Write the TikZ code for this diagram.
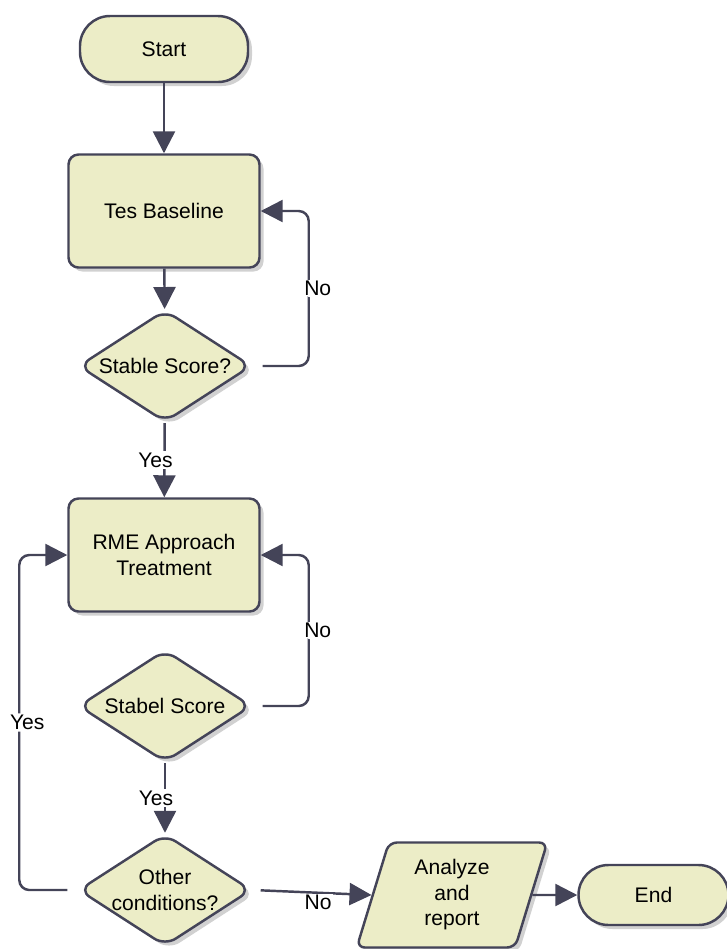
\documentclass[tikz,border=0pt]{standalone}
\usepackage{fontspec}
\setmainfont{Liberation Sans}
\usepackage{tikz}
\usetikzlibrary{shapes.geometric,shadows,arrows.meta}
\definecolor{boxfill}{RGB}{236,237,199}
\definecolor{boxline}{RGB}{68,68,88}
\tikzset{shapebase/.style={draw=boxline, fill=boxfill, line width=1.4pt, font=\fontsize{12}{14.5}\selectfont, align=center, drop shadow={shadow xshift=0.08cm, shadow yshift=-0.08cm, fill=black!40, opacity=0.45}}}
\tikzset{terminal/.style={shapebase, shape=rectangle, rounded corners=0.6cm, minimum width=3.36cm, minimum height=1.32cm}}
\tikzset{process/.style={shapebase, shape=rectangle, rounded corners=0.2cm, minimum width=3.82cm, minimum height=2.26cm}}
\tikzset{decision/.style={shapebase, shape=diamond, aspect=1.55, inner xsep=-0.12cm, inner ysep=-0.05cm, rounded corners=0.25cm, minimum width=3.46cm, minimum height=2.24cm}}
\tikzset{iobox/.style={shapebase, shape=trapezium, trapezium left angle=75, trapezium right angle=105, trapezium stretches=true, rounded corners=0.16cm, minimum width=3.82cm, minimum height=2.1cm}}
\tikzset{flowline/.style={draw=boxline, line width=1.4pt, -{Triangle[length=0.44cm,width=0.44cm]}}}
\tikzset{flowlabel/.style={fill=white, inner sep=1pt, font=\fontsize{12}{14.5}\selectfont}}

\begin{document}
\begin{tikzpicture}
\useasboundingbox (0,0) rectangle (14.54,-18.98);
\node[terminal] (start) at (3.28,-0.98) {Start};
\node[process] (tes) at (3.28,-4.22) {Tes Baseline};
\node[decision] (d1) at (3.3,-7.32) {Stable Score?};
\node[process] (rme) at (3.28,-11.1) {RME Approach\\Treatment};
\node[decision] (d2) at (3.3,-14.12) {Stabel Score};
\node[decision] (d3) at (3.3,-17.8) {Other\\conditions?};
\node[iobox] (report) at (9.04,-17.9) {Analyze\\and\\report};
\node[terminal, minimum width=3.0cm, minimum height=1.2cm] (finish) at (13.07,-17.9) {End};
\draw[flowline] (start) -- (tes);
\draw[flowline] (tes) -- (d1);
\draw[flowline, rounded corners=0.2cm, shorten <=0.2cm] (d1.east) -- ++(1.12,0) |- (tes.east) node[flowlabel, pos=0.25, xshift=0.18cm] {No};
\draw[flowline] (d1) -- (rme) node[flowlabel, pos=0.5, xshift=-0.18cm] {Yes};
\draw[flowline, rounded corners=0.2cm, shorten <=0.2cm] (d2.east) -- ++(1.12,0) |- (rme.east) node[flowlabel, pos=0.25, xshift=0.18cm] {No};
\draw[flowline] (d2) -- (d3) node[flowlabel, pos=0.5, xshift=-0.18cm] {Yes};
\draw[flowline, rounded corners=0.2cm, shorten <=0.2cm] (d3.west) -- ++(-1.16,0) |- (rme.west) node[flowlabel, pos=0.25, xshift=0.16cm] {Yes};
\draw[flowline, shorten <=0.16cm] (d3.east) -- (report.west) node[flowlabel, pos=0.55, yshift=-0.2cm] {No};
\draw[flowline] (report.east) -- (finish.west);
\end{tikzpicture}
\end{document}
